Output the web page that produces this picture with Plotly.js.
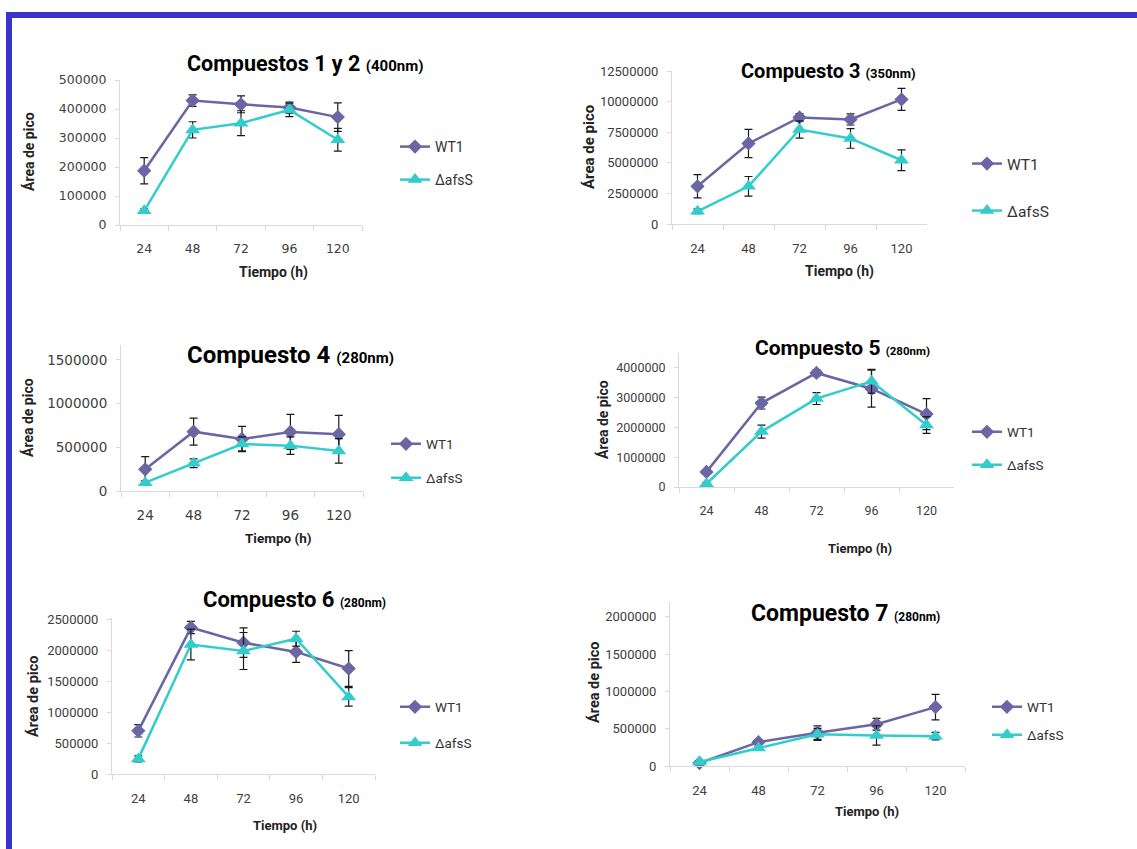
<!DOCTYPE html>
<html>
<head>
<meta charset="utf-8">
<script src="https://cdn.plot.ly/plotly-3.0.1.min.js"></script>
<style>html,body{margin:0;padding:0;background:#fff;}#chart{width:1137px;height:849px;}</style>
</head>
<body>
<div id="chart"></div>
<script>
// ---- data ----
const categories = ['24', '48', '72', '96', '120'];
const seriesNames = ['WT1', '\u0394afsS'];

const wt1_c12 = [187000, 429000, 416000, 405000, 372000];
const wt1_c12_err = [45000, 20000, 29000, 19000, 49000];
const afs_c12 = [49000, 328000, 351000, 397000, 294000];
const afs_c12_err = [7000, 28000, 43000, 23000, 39000];

const wt1_c3 = [3080000, 6580000, 8710000, 8540000, 10180000];
const wt1_c3_err = [950000, 1150000, 300000, 450000, 900000];
const afs_c3 = [1040000, 3080000, 7720000, 6990000, 5210000];
const afs_c3_err = [200000, 800000, 700000, 800000, 850000];

const wt1_c4 = [248000, 679000, 595000, 676000, 649000];
const wt1_c4_err = [145000, 155000, 145000, 200000, 215000];
const afs_c4 = [95000, 317000, 538000, 519000, 458000];
const afs_c4_err = [25000, 50000, 80000, 100000, 140000];

const wt1_c5 = [507000, 2820000, 3830000, 3300000, 2450000];
const wt1_c5_err = [50000, 200000, 100000, 620000, 520000];
const afs_c5 = [110000, 1860000, 2970000, 3550000, 2080000];
const afs_c5_err = [50000, 220000, 200000, 400000, 280000];

const wt1_c6 = [700000, 2375000, 2130000, 1980000, 1710000];
const wt1_c6_err = [100000, 100000, 240000, 170000, 290000];
const afs_c6 = [245000, 2100000, 1995000, 2195000, 1250000];
const afs_c6_err = [50000, 250000, 300000, 120000, 150000];

const wt1_c7 = [40000, 320000, 447000, 560000, 790000];
const wt1_c7_err = [20000, 30000, 90000, 80000, 170000];
const afs_c7 = [54000, 240000, 425000, 410000, 400000];
const afs_c7_err = [20000, 20000, 80000, 130000, 50000];

const ticks_c12 = [0, 100000, 200000, 300000, 400000, 500000];
const ticks_c3 = [0, 2500000, 5000000, 7500000, 10000000, 12500000];
const ticks_c4 = [0, 500000, 1000000, 1500000];
const ticks_c5 = [0, 1000000, 2000000, 3000000, 4000000];
const ticks_c6 = [0, 500000, 1000000, 1500000, 2000000, 2500000];
const ticks_c7 = [0, 500000, 1000000, 1500000, 2000000];

const titles = ['Compuestos 1 y 2', 'Compuesto 3', 'Compuesto 4', 'Compuesto 5', 'Compuesto 6', 'Compuesto 7'];
const subtitles = ['(400nm)', '(350nm)', '(280nm)', '(280nm)', '(280nm)', '(280nm)'];
const xTitle = 'Tiempo (h)';
const yTitle = '\u00C1rea de pico';

// ---- layout helpers ----
const W = 1137, H = 849;
const X = px => px / W;
const Y = py => 1 - py / H;

const PURPLE = '#6a66a3';
const TEAL = '#33cccc';

const panels = [
  {wt: wt1_c12, we: wt1_c12_err, af: afs_c12, ae: afs_c12_err, ticks: ticks_c12, ymax: 500000,
   dom: [120, 362, 80, 225], tickFont: {family: 'DejaVu Sans', size: 12.5}, tf: 21.5, sf: 15,
   title: [185, 64], xt: [273, 272, 14], yt: [29, 152, 14], leg: [400, 147, 180, 14], ystand: 6, xstand: 12},
  {wt: wt1_c3, we: wt1_c3_err, af: afs_c3, ae: afs_c3_err, ticks: ticks_c3, ymax: 12500000,
   dom: [672, 927, 71, 224], tickFont: {family: 'Roboto', size: 13}, tf: 20, sf: 13,
   title: [739, 71], xt: [839, 271, 14], yt: [589, 147, 15], leg: [972, 164, 211, 15.5], ystand: 6, xstand: 12},
  {wt: wt1_c4, we: wt1_c4_err, af: afs_c4, ae: afs_c4_err, ticks: ticks_c4, ymax: 1670000,
   dom: [121, 363, 345, 491], tickFont: {family: 'DejaVu Sans', size: 13.5}, tf: 24, sf: 15,
   title: [185, 355], xt: [278, 538, 13.5], yt: [28, 418, 14], leg: [391, 444, 478, 13.5], ystand: 6, xstand: 12},
  {wt: wt1_c5, we: wt1_c5_err, af: afs_c5, ae: afs_c5_err, ticks: ticks_c5, ymax: 4500000,
   dom: [679, 954, 353, 487], tickFont: {family: 'Roboto', size: 12.5}, tf: 21, sf: 11.5,
   title: [753, 348], xt: [860, 548, 13], yt: [603, 420, 14], leg: [972, 432, 465, 13.5], ystand: 6, xstand: 12},
  {wt: wt1_c6, we: wt1_c6_err, af: afs_c6, ae: afs_c6_err, ticks: ticks_c6, ymax: 2530000,
   dom: [112, 375, 618, 774], tickFont: {family: 'Roboto', size: 13}, tf: 22, sf: 12,
   title: [201, 599], xt: [285, 825, 13], yt: [33, 697, 14.5], leg: [400, 707, 743, 13.5], ystand: 6, xstand: 12},
  {wt: wt1_c7, we: wt1_c7_err, af: afs_c7, ae: afs_c7_err, ticks: ticks_c7, ymax: 2200000,
   dom: [670, 965, 602, 766], tickFont: {family: 'Roboto', size: 13}, tf: 23, sf: 12,
   title: [749, 613], xt: [867, 811, 13], yt: [594, 683, 14.5], leg: [992, 707, 735, 13.5], ystand: 6, xstand: 12}
];

const data = [];
const layout = {
  width: W, height: H,
  margin: {l: 0, r: 0, t: 0, b: 0},
  paper_bgcolor: '#ffffff', plot_bgcolor: 'rgba(0,0,0,0)',
  showlegend: true,
  font: {family: 'Roboto', color: '#404040'},
  annotations: [],
  shapes: [
    {type: 'rect', xref: 'paper', yref: 'paper', x0: X(6), x1: X(12), y0: Y(849), y1: Y(12), fillcolor: '#3a33cc', line: {width: 0}},
    {type: 'rect', xref: 'paper', yref: 'paper', x0: X(6), x1: X(1137), y0: Y(18), y1: Y(12), fillcolor: '#3a33cc', line: {width: 0}}
  ]
};

let legIdx = 0;
panels.forEach((p, i) => {
  const n = i + 1;
  const xa = n === 1 ? 'xaxis' : 'xaxis' + n;
  const ya = n === 1 ? 'yaxis' : 'yaxis' + n;
  const xr = n === 1 ? 'x' : 'x' + n;
  const yr = n === 1 ? 'y' : 'y' + n;

  layout[xa] = {
    domain: [X(p.dom[0]), X(p.dom[1])], anchor: yr, type: 'category',
    range: [-0.5, 4.5], showline: true, linecolor: '#d9d9d9', linewidth: 1,
    ticks: 'outside', tickson: 'boundaries', ticklen: 5, tickcolor: '#d9d9d9',
    showgrid: false, zeroline: false, fixedrange: true,
    tickfont: Object.assign({color: '#404040'}, p.tickFont), ticklabelstandoff: p.xstand
  };
  layout[ya] = {
    domain: [Y(p.dom[3]), Y(p.dom[2])], anchor: xr,
    range: [0, p.ymax], tickvals: p.ticks, tickformat: 'd',
    showline: true, linecolor: '#d9d9d9', linewidth: 1,
    ticks: 'outside', ticklen: 4, tickcolor: '#d9d9d9',
    showgrid: false, zeroline: false, fixedrange: true,
    tickfont: Object.assign({color: '#404040'}, p.tickFont), ticklabelstandoff: p.ystand
  };

  const specs = [
    {name: seriesNames[0], y: p.wt, e: p.we, color: PURPLE, sym: 'diamond', size: 11, ly: p.leg[1]},
    {name: seriesNames[1], y: p.af, e: p.ae, color: TEAL, sym: 'triangle-up', size: 13, ly: p.leg[2]}
  ];
  specs.forEach(s => {
    legIdx++;
    const lname = legIdx === 1 ? 'legend' : 'legend' + legIdx;
    data.push({
      type: 'scatter', mode: 'lines+markers', name: s.name,
      x: categories, y: s.y, xaxis: xr, yaxis: yr, legend: lname,
      line: {color: s.color, width: 2.5},
      marker: {symbol: s.sym, size: s.size, color: s.color},
      error_y: {type: 'data', array: s.e, visible: true, color: '#1a1a1a', thickness: 1.2, width: 4},
      cliponaxis: false, hoverinfo: 'skip'
    });
    layout[lname] = {
      x: X(p.leg[0] - 5), y: Y(s.ly), xanchor: 'left', yanchor: 'middle',
      bgcolor: 'rgba(0,0,0,0)', borderwidth: 0,
      font: {family: 'Roboto', size: p.leg[3], color: '#333333'},
      itemclick: false, itemdoubleclick: false
    };
  });

  layout.annotations.push({
    xref: 'paper', yref: 'paper', x: X(p.title[0]), y: Y(p.title[1]),
    xanchor: 'left', yanchor: 'middle', showarrow: false,
    text: '<b>' + titles[i] + '</b> <b><span style="font-size:' + p.sf + 'px">' + subtitles[i] + '</span></b>',
    font: {family: 'Roboto', size: p.tf, color: '#000000'}
  });
  layout.annotations.push({
    xref: 'paper', yref: 'paper', x: X(p.xt[0]), y: Y(p.xt[1]),
    xanchor: 'center', yanchor: 'middle', showarrow: false,
    text: '<b>' + xTitle + '</b>', font: {family: 'Roboto', size: p.xt[2], color: '#222222'}
  });
  layout.annotations.push({
    xref: 'paper', yref: 'paper', x: X(p.yt[0]), y: Y(p.yt[1]),
    xanchor: 'center', yanchor: 'middle', showarrow: false, textangle: -90,
    text: '<b>' + yTitle + '</b>', font: {family: 'Roboto', size: p.yt[2], color: '#222222'}
  });
});

Plotly.newPlot('chart', data, layout, {displayModeBar: false, staticPlot: true});
</script>
</body>
</html>
